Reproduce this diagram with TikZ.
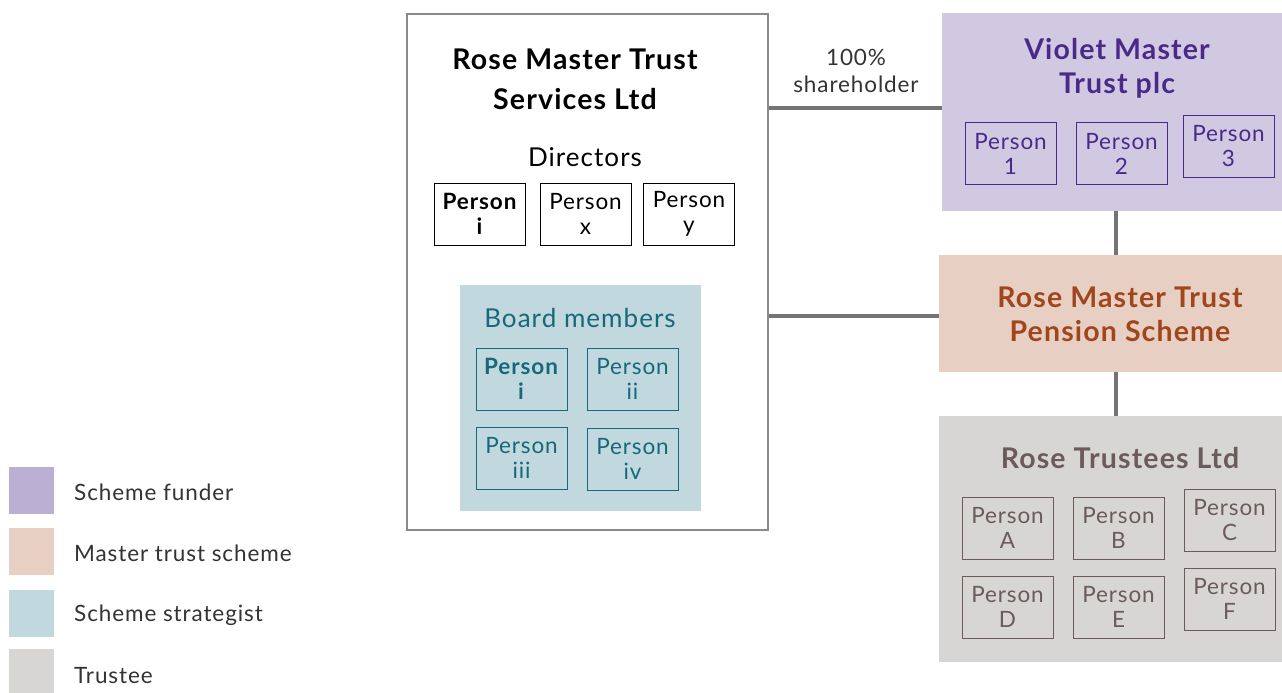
\documentclass[tikz,border=0pt]{standalone}
\usepackage{fontspec}
\setmainfont{Lato}[LetterSpace=4]
\usetikzlibrary{positioning}

\definecolor{violetfill}{HTML}{D1C9E2}
\definecolor{violetkey}{HTML}{BBAFD4}
\definecolor{violettext}{HTML}{4A2A88}
\definecolor{rosefill}{HTML}{E7CFC3}
\definecolor{rosetext}{HTML}{A0461C}
\definecolor{tealfill}{HTML}{C0D8DE}
\definecolor{tealtext}{HTML}{17687A}
\definecolor{greyfill}{HTML}{D7D6D5}
\definecolor{greytext}{HTML}{6B5B5B}
\definecolor{linkgrey}{HTML}{757578}
\definecolor{framegrey}{HTML}{8A8A8A}
\definecolor{labelgrey}{HTML}{333333}

\tikzset{
  person/.style={draw, line width=1, minimum width=91, minimum height=62, inner sep=0,
    align=center, font=\fontsize{22.5}{25}\selectfont},
  panel/.style={inner sep=0, draw=none},
  heading/.style={align=center, inner sep=0, font=\bfseries\fontsize{28.5}{34}\selectfont},
  link/.style={linkgrey, line width=4},
  keybox/.style={inner sep=0, minimum width=45, minimum height=47},
  keylabel/.style={anchor=west, inner sep=0, text=labelgrey, font=\fontsize{22.5}{25}\selectfont}
}

\begin{document}
\begin{tikzpicture}[x=1pt, y=-1pt]
\useasboundingbox (0,0) rectangle (1282,693);

%% Services company %%
\node[draw=framegrey, line width=1.5, minimum width=361, minimum height=516, inner sep=0] (services) at (587.5,272) {};
\node[heading, font=\bfseries\fontsize{28.5}{40}\selectfont] (servicestitle) at (575,79) {Rose Master Trust\\Services Ltd};
\node[inner sep=0, font=\fontsize{26}{30}\selectfont] (directors) at (585,157) {Directors};

% directors %
\node[person] (diri) at (480,214) {\textbf{Person}\\\textbf{i}};
\node[person] (dirx) at (585.5,214) {Person\\x};
\node[person] (diry) at (689,214) {Person\\y};

% board members %
\node[panel, fill=tealfill, minimum width=241, minimum height=226] (board) at (580.5,398) {};
\node[inner sep=0, text=tealtext, font=\fontsize{26}{30}\selectfont] (boardtitle) at (580,318) {Board members};
\node[person, draw=tealtext, text=tealtext] (bdi) at (521.5,379) {\textbf{Person}\\\textbf{i}};
\node[person, draw=tealtext, text=tealtext] (bdii) at (632.5,379) {Person\\ii};
\node[person, draw=tealtext, text=tealtext] (bdiii) at (521.5,458) {Person\\iii};
\node[person, draw=tealtext, text=tealtext] (bdiv) at (632.5,459) {Person\\iv};

%% Scheme funder %%
\node[panel, fill=violetfill, minimum width=340, minimum height=198] (violet) at (1112,112) {};
\node[heading, text=violettext] (violettitle) at (1117,68) {Violet Master\\Trust plc};
\node[person, draw=violettext, text=violettext] (vp1) at (1010.5,153.5) {Person\\1};
\node[person, draw=violettext, text=violettext] (vp2) at (1121.5,153.5) {Person\\2};
\node[person, draw=violettext, text=violettext] (vp3) at (1228.5,146) {Person\\3};

%% Master trust scheme %%
\node[panel, fill=rosefill, minimum width=343, minimum height=117] (pension) at (1110.5,313.5) {};
\node[heading, text=rosetext] (pensiontitle) at (1120,314) {Rose Master Trust\\Pension Scheme};

%% Trustee %%
\node[panel, fill=greyfill, minimum width=343, minimum height=246] (trustees) at (1110.5,539) {};
\node[heading, text=greytext] (trusteestitle) at (1120,458) {Rose Trustees Ltd};
\node[person, draw=greytext, text=greytext] (tpA) at (1007.5,528) {Person\\A};
\node[person, draw=greytext, text=greytext] (tpB) at (1118.5,528) {Person\\B};
\node[person, draw=greytext, text=greytext] (tpC) at (1229.5,520.5) {Person\\C};
\node[person, draw=greytext, text=greytext] (tpD) at (1007.5,607) {Person\\D};
\node[person, draw=greytext, text=greytext] (tpE) at (1118.5,607) {Person\\E};
\node[person, draw=greytext, text=greytext] (tpF) at (1229.5,599) {Person\\F};

%% Connection lines %%
\draw[link] (violet.west |- 0,108) -- (services.east |- 0,108);
\node[align=center, inner sep=0, text=labelgrey, font=\fontsize{22.5}{27}\selectfont] (share) at (856,71) {100\%\\shareholder};
\draw[link] (pension.west |- 0,316) -- (services.east |- 0,316);
\draw[link] (violet.south -| 1116,0) -- (pension.north -| 1116,0);
\draw[link] (pension.south -| 1116,0) -- (trustees.north -| 1116,0);

%% Key %%
\node[keybox, fill=violetkey] (keyfunder) at (31.5,490.5) {};
\node[keybox, fill=rosefill] (keyscheme) at (31.5,551.5) {};
\node[keybox, fill=tealfill] (keystrategist) at (31.5,613.5) {};
\node[keybox, fill=greyfill] (keytrustee) at (31.5,672) {};
\node[keylabel] at (74,492) {Scheme funder};
\node[keylabel] at (74,553) {Master trust scheme};
\node[keylabel] at (74,615) {Scheme strategist};
\node[keylabel] at (74,676) {Trustee};

\end{tikzpicture}
\end{document}
